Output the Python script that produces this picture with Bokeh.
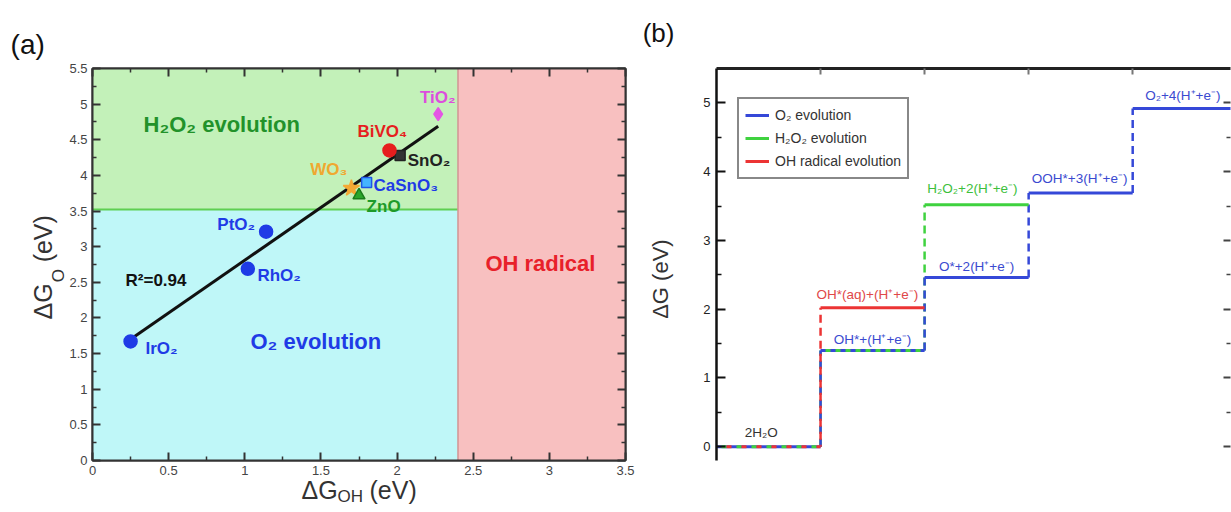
import math
from bokeh.plotting import figure
from bokeh.models import (ColumnDataSource, LinearAxis, FixedTicker,
                          Legend, LegendItem, Range1d)
from bokeh.layouts import row
from bokeh.embed import file_html
from bokeh.resources import INLINE
from bokeh.core.properties import value

FONT = "Liberation Sans"

# ---------------- panel (a) data ----------------
region_names = ["O₂ evolution", "H₂O₂ evolution", "OH radical"]
region_left = [0.0, 0.0, 2.4]
region_right = [2.4, 2.4, 3.5]
region_bottom = [0.0, 3.52, 0.0]
region_top = [3.52, 5.5, 5.5]

materials = ["IrO₂", "RhO₂", "PtO₂", "WO₃", "ZnO", "CaSnO₃", "SnO₂", "BiVO₄", "TiO₂"]
dG_OH = [0.25, 1.02, 1.14, 1.70, 1.75, 1.80, 2.02, 1.95, 2.27]
dG_O = [1.67, 2.69, 3.21, 3.82, 3.72, 3.90, 4.28, 4.35, 4.86]

fit_x = [0.25, 2.27]
fit_y = [1.70, 4.69]
r2_label = "R²=0.94"

xticks_a = [0, 0.5, 1, 1.5, 2, 2.5, 3, 3.5]
xtick_labels_a = ["0", "0.5", "1", "1.5", "2", "2.5", "3", "3.5"]
yticks_a = [0, 0.5, 1, 1.5, 2, 2.5, 3, 3.5, 4, 4.5, 5, 5.5]
ytick_labels_a = ["0", "0.5", "1", "1.5", "2", "2.5", "3", "3.5", "4", "4.5", "5", "5.5"]

# ---------------- panel (b) data ----------------
step_pos = [0, 1, 2, 3, 4, 5]
o2_levels = [0.0, 1.40, 2.46, 3.69, 4.92]
h2o2_levels = [0.0, 1.40, 3.52]
oh_levels = [0.0, 2.02]
path_names = ["O₂ evolution", "H₂O₂ evolution", "OH radical evolution"]
state_labels = ["2H₂O", "OH*(aq)+(H⁺+e⁻)", "OH*+(H⁺+e⁻)", "H₂O₂+2(H⁺+e⁻)",
                "O*+2(H⁺+e⁻)", "OOH*+3(H⁺+e⁻)", "O₂+4(H⁺+e⁻)"]
yticks_b = [0, 1, 2, 3, 4, 5]

# ---------------- styles ----------------
C_CYAN = "#bff7f8"
C_GREEN_BG = "#c3f1b9"
C_PINK = "#f8c0c0"
BLUE_A = "#1f3be6"
BLUE = "#3548d8"
GREEN = "#3fd23f"
RED = "#ec3434"

marker_types = ["circle", "circle", "circle", "star", "triangle", "square", "square", "circle", "diamond"]
marker_fill = [BLUE_A, BLUE_A, BLUE_A, "#f4a934", "#2aa52a", "#45b4ff", "#333333", "#e61e1e", "#e455e4"]
marker_line = [BLUE_A, BLUE_A, BLUE_A, "#f4a934", "#1b7d1b", "#1f55e6", "#222222", "#e61e1e", "#e455e4"]
marker_size = [13, 13, 13, 17, 12, 10, 10, 13, 13]
label_colors = [BLUE_A, BLUE_A, BLUE_A, "#f0a830", "#1e9a2a", BLUE_A, "#222222", "#e61e1e", "#dd4ddd"]
label_x = [0.348, 1.083, 0.82, 1.43, 1.80, 1.845, 2.07, 1.74, 2.15]
label_y = [1.573, 2.60, 3.31, 4.08, 3.56, 3.86, 4.21, 4.61, 5.10]


def style_axis(ax, ticks, minor, labels=None, show_labels=True, color="#333333",
               width=2, tin=8, mtin=4, font_size="13px", standoff=5):
    ax.ticker = FixedTicker(ticks=ticks, minor_ticks=minor)
    ax.major_tick_in = tin
    ax.major_tick_out = 0
    ax.minor_tick_in = mtin
    ax.minor_tick_out = 0
    ax.axis_line_width = width
    ax.axis_line_color = color
    ax.major_tick_line_color = color
    ax.minor_tick_line_color = color
    ax.major_tick_line_width = 2
    ax.minor_tick_line_width = 1.5
    ax.major_label_text_font = FONT
    ax.major_label_text_color = "#444444"
    ax.major_label_text_font_size = font_size
    ax.major_label_standoff = standoff
    if labels is not None:
        ax.major_label_overrides = dict(zip(ticks, labels))
    if not show_labels:
        ax.major_label_overrides = {t: "" for t in ticks}
        ax.major_label_standoff = 0


def otext(p, x, y, t, size, color="#333333", angle=0.0, align="left",
          baseline="middle", style="normal"):
    # text drawn on the overlay level so that it can sit outside the frame
    p.text(x=[x], y=[y], text=[t], angle=angle, text_font=value(FONT),
           text_font_size=size, text_color=color, text_align=align,
           text_baseline=baseline, text_font_style=style, level="overlay")


# ================= panel (a) =================
pa = figure(width=640, height=512, x_range=Range1d(0, 3.5), y_range=Range1d(0, 5.5),
            output_backend="svg", toolbar_location=None,
            min_border_left=92, min_border_right=15, min_border_top=58, min_border_bottom=52)
pa.grid.visible = False
pa.outline_line_color = "#333333"
pa.outline_line_width = 2
pa.background_fill_color = "white"
pa.border_fill_color = "white"

xminor_a = [0.25, 0.75, 1.25, 1.75, 2.25, 2.75, 3.25]
yminor_a = [0.25, 0.75, 1.25, 1.75, 2.25, 2.75, 3.25, 3.75, 4.25, 4.75, 5.25]
style_axis(pa.xaxis[0], xticks_a, xminor_a, xtick_labels_a)
style_axis(pa.yaxis[0], yticks_a, yminor_a, ytick_labels_a)
top_a = LinearAxis()
style_axis(top_a, xticks_a, xminor_a, show_labels=False)
pa.add_layout(top_a, "above")
right_a = LinearAxis()
style_axis(right_a, yticks_a, yminor_a, show_labels=False)
pa.add_layout(right_a, "right")

pa.quad(left=region_left, right=region_right, bottom=region_bottom, top=region_top,
        fill_color=[C_CYAN, C_GREEN_BG, C_PINK], line_color=None)
pa.segment(x0=[region_left[1]], y0=[region_bottom[1]], x1=[region_right[1]], y1=[region_bottom[1]],
           line_color="#5fcf52", line_width=2)
pa.segment(x0=[region_left[2]], y0=[region_bottom[2]], x1=[region_left[2]], y1=[region_top[2]],
           line_color="#d29494", line_width=1.5)

pa.line(fit_x, fit_y, line_color="#111111", line_width=3)

src_a = ColumnDataSource(dict(x=dG_OH, y=dG_O, marker=marker_types, fill=marker_fill,
                              line=marker_line, size=marker_size, label=materials,
                              lx=label_x, ly=label_y, tc=label_colors))
pa.scatter(x="x", y="y", marker="marker", size="size", fill_color="fill",
           line_color="line", line_width=1.5, source=src_a)
pa.text(x="lx", y="ly", text="label", text_color="tc", text_font=value(FONT),
        text_font_size="17px", text_font_style="bold", text_baseline="middle",
        source=src_a)

src_reg = ColumnDataSource(dict(x=[1.037, 0.335, 2.58], y=[1.67, 4.72, 2.76],
                                t=region_names, c=[BLUE_A, "#22922a", "#e8202a"]))
pa.text(x="x", y="y", text="t", text_color="c", text_font=value(FONT),
        text_font_size="22px", text_font_style="bold", text_baseline="middle",
        source=src_reg)
pa.text(x=[0.217], y=[2.53], text=[r2_label], text_color="#111111", text_font=value(FONT),
        text_font_size="17px", text_font_style="bold", text_baseline="middle")

otext(pa, -0.538, 5.84, "(a)", "28px", color="#111111")
# y axis label  ΔG_O (eV)
otext(pa, -0.328, 1.98, "ΔG", "25px", angle=math.pi / 2)
otext(pa, -0.223, 2.50, "O", "17px", angle=math.pi / 2)
otext(pa, -0.328, 2.78, "(eV)", "25px", angle=math.pi / 2)
# x axis label  ΔG_OH (eV)
otext(pa, 1.372, -0.41, "ΔG", "25px")
otext(pa, 1.609, -0.506, "OH", "17px")
otext(pa, 1.819, -0.41, "(eV)", "25px")

# ================= panel (b) =================
pb = figure(width=591, height=512, x_range=Range1d(0, 4.94), y_range=Range1d(-0.2, 5.5),
            output_backend="svg", toolbar_location=None, x_axis_location="above",
            min_border_left=76, min_border_right=1, min_border_top=68, min_border_bottom=46)
pb.grid.visible = False
pb.outline_line_color = None
pb.background_fill_color = "white"
pb.border_fill_color = "white"

style_axis(pb.yaxis[0], yticks_b, [0.5, 1.5, 2.5, 3.5, 4.5], color="#111111", width=2.5,
           tin=9, mtin=5, font_size="13px", standoff=6)
pb.yaxis[0].major_label_text_color = "#222222"
style_axis(pb.xaxis[0], [1, 2, 3, 4], [], show_labels=False, color="#222222", width=3,
           tin=6, mtin=0)
pb.xaxis[0].major_tick_line_color = "#777777"
right_b = LinearAxis()
style_axis(right_b, yticks_b, [0.5, 1.5, 2.5, 3.5, 4.5], show_labels=False, color="#444444",
           tin=7, mtin=4)
right_b.axis_line_alpha = 0
pb.add_layout(right_b, "right")

paths = [(path_names[0], o2_levels, BLUE), (path_names[1], h2o2_levels, GREEN),
         (path_names[2], oh_levels, RED)]

# vertical connectors (dashed)
for idx in [1, 0, 2]:
    name, lv, col = paths[idx]
    vx, vy0, vy1 = [], [], []
    for i in range(len(lv) - 1):
        vx.append(step_pos[i + 1])
        vy0.append(lv[i])
        vy1.append(lv[i + 1])
    pb.segment(x0=vx, y0=vy0, x1=vx, y1=vy1, line_color=col, line_width=2.5,
               line_dash="8 5", line_dash_offset=6 if idx == 2 else 0)

# horizontal levels
solid_r = {}
dashed_jobs = []
for idx, (name, lv, col) in enumerate(paths):
    hx0, hx1, hy = [], [], []
    for i, level in enumerate(lv):
        sharers = [j for j, (_, l2, _) in enumerate(paths)
                   if len(l2) > i and abs(l2[i] - level) < 1e-9]
        if len(sharers) == 1 or sharers[0] == idx:
            hx0.append(step_pos[i]); hx1.append(step_pos[i + 1]); hy.append(level)
        else:
            n = len(sharers); k = sharers.index(idx); d = 5; period = n * d
            dashed_jobs.append((step_pos[i], step_pos[i + 1], level, col,
                                f"{d} {(n - 1) * d}", (period - k * d) % period))
    solid_r[idx] = pb.segment(x0=hx0, y0=hy, x1=hx1, y1=hy, line_color=col, line_width=3)
for (a0, a1, lvl, col, dash, off) in dashed_jobs:
    pb.segment(x0=[a0], y0=[lvl], x1=[a1], y1=[lvl], line_color=col, line_width=3,
               line_dash=dash, line_dash_offset=off)

src_b = ColumnDataSource(dict(
    x=[0.43, 1.45, 1.50, 2.46, 2.50, 3.49, 4.12],
    y=[0.20, 2.22, 1.56, 3.75, 2.62, 3.90, 5.11],
    t=state_labels,
    c=["#333333", "#e04848", "#3a4ad0", "#3cc03c", "#3a4ad0", "#3a4ad0", "#3a4ad0"],
    a=["center", "center", "center", "center", "center", "center", "left"]))
pb.text(x="x", y="y", text="t", text_color="c", text_align="a", text_baseline="middle",
        text_font=value(FONT), text_font_size="13.5px", source=src_b)

legend = Legend(items=[LegendItem(label=path_names[i], renderers=[solid_r[i]]) for i in range(3)],
                location=(21, 281), border_line_color="#111111", border_line_width=2,
                label_text_font=FONT, label_text_font_size="14px", label_text_color="#333333",
                glyph_width=24, glyph_height=20, label_height=20, spacing=3, padding=6,
                margin=0, label_standoff=6, background_fill_alpha=1.0)
pb.add_layout(legend)

otext(pb, -0.71, 6.02, "(b)", "26px", color="#111111")
otext(pb, -0.54, 1.86, "ΔG (eV)", "22px", angle=math.pi / 2)

layout = row(pa, pb)
open("out.html", "w").write(file_html(layout, INLINE))
